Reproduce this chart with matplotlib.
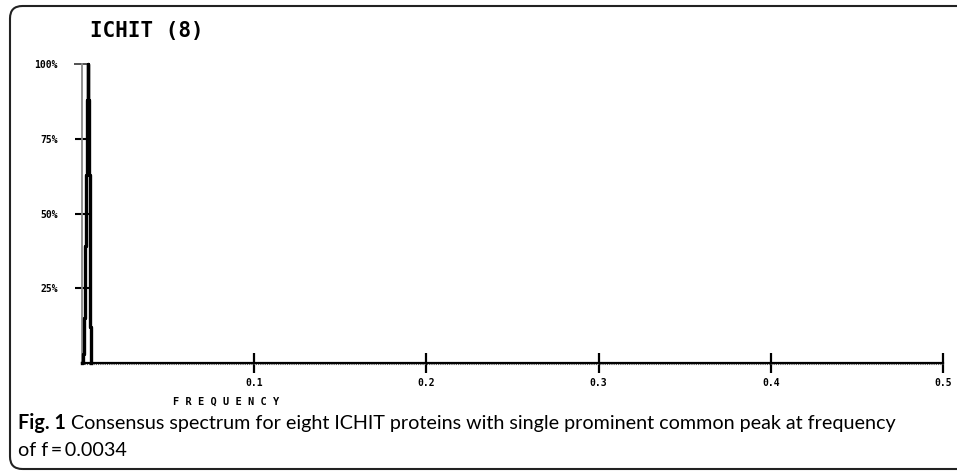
import matplotlib
matplotlib.use("Agg")
import matplotlib.pyplot as plt
from matplotlib.patches import FancyBboxPatch
from matplotlib import font_manager

# ---- data ----
freq = [0.0, 0.0006, 0.0012, 0.0018, 0.0024, 0.0030, 0.0034, 0.0038, 0.0042, 0.0046, 0.0050, 0.0054]
power = [0, 3, 15, 39, 63, 88, 100, 88, 63, 37, 12, 0]
xticks = [0.1, 0.2, 0.3, 0.4, 0.5]
xticklabels = ["0.1", "0.2", "0.3", "0.4", "0.5"]
yticks = [25, 50, 75]
yticklabels = ["25%", "50%", "75%"]
title = "ICHIT (8)"
xlabel = "F R E Q U E N C Y"
cap_bold = "Fig. 1"
cap_line1 = " Consensus spectrum for eight ICHIT proteins with single prominent common peak at frequency"
cap_line2 = "of f\u2009=\u20090.0034"

W, H = 957, 475
fig = plt.figure(figsize=(W / 100, H / 100), dpi=100)

names = {f.name for f in font_manager.fontManager.ttflist}
capfont = "Lato" if "Lato" in names else "DejaVu Sans"

# rounded border
border = FancyBboxPatch((10 / W, 6 / H), 1.2, (469 - 6) / H,
                        boxstyle="round,pad=0,rounding_size=0.013",
                        transform=fig.transFigure, fill=False, lw=1.5,
                        ec="#222222", clip_on=False, mutation_aspect=W / H)
fig.patches.append(border)

ax = fig.add_axes([82 / W, 112 / H, (943 - 82) / W, 299 / H])
ax.set_xlim(0, 0.5)
ax.set_ylim(0, 100)
for s in ax.spines.values():
    s.set_visible(False)

# axes lines
ax.plot([0, 0.5], [0, 0], color="black", lw=1.6, clip_on=False, zorder=3)
ax.plot([0, 0.5], [-0.5, -0.5], color="#555555", lw=0.8, ls=(0, (1, 1)), clip_on=False, zorder=3)
ax.plot([0, 0], [0, 100], color="#888888", lw=1.3, clip_on=False, zorder=2)

# spectrum
ax.plot(freq, power, color="black", lw=2.4, drawstyle="steps-mid", clip_on=False, zorder=4)

tickfont = dict(family="DejaVu Sans Mono", weight="bold", size=7)
ax.set_xticks(xticks)
ax.set_xticklabels(xticklabels, fontdict=tickfont)
ax.tick_params(axis="x", direction="inout", length=15, width=1.6, pad=3)
ax.set_yticks(yticks)
ax.set_yticklabels(yticklabels, fontdict=tickfont)
ax.set_yticks([100], minor=True)
ax.set_yticklabels(["100%"], minor=True, fontdict=tickfont)
ax.tick_params(axis="y", which="major", direction="inout", length=10, width=1.5, pad=12)
ax.tick_params(axis="y", which="minor", direction="inout", length=11, width=1.3, pad=12, color="#444444")

fig.text(90 / W, 1 - 31 / H, title, family="DejaVu Sans Mono", weight="bold",
         size=15, va="center", ha="left")
fig.text(173 / W, 1 - 402 / H, xlabel, family="DejaVu Sans Mono", weight="bold",
         size=7.5, va="center", ha="left")

t = fig.text(18 / W, 1 - 423 / H, cap_bold, family=capfont, weight="bold",
             size=14.2, va="center", ha="left")
fig.canvas.draw()
bb = t.get_window_extent()
fig.text(bb.x1 / W, 1 - 423 / H, cap_line1, family=capfont, size=14.2,
         va="center", ha="left")
fig.text(18 / W, 1 - 451 / H, cap_line2, family=capfont, size=14.2,
         va="center", ha="left")

fig.savefig("out.png", dpi=100)
